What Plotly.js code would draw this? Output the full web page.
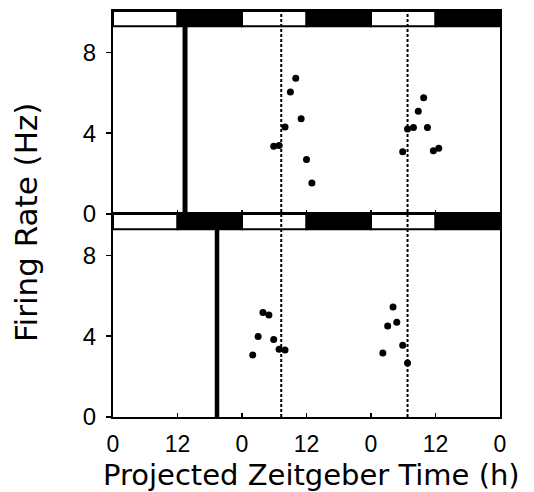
<!DOCTYPE html>
<html>
<head>
<meta charset="utf-8">
<script src="https://cdn.plot.ly/plotly-3.0.1.min.js"></script>
<style>html,body{margin:0;padding:0;background:#fff;}#chart{width:534px;height:492px;}</style>
</head>
<body>
<div id="chart"></div>
<script>
// ---- data ----
const tickHours = [0, 12, 24, 36, 48, 60, 72];
const tickLabels = ['0', '12', '0', '12', '0', '12', '0'];
const yTicks = [0, 4, 8];
const ldStarts = [0, 12, 24, 36, 48, 60];
const ldStates = ['L', 'D', 'L', 'D', 'L', 'D'];

const topHours = [29.9, 30.9, 32.0, 33.0, 34.0, 35.0, 36.0, 37.0,
                  53.9, 54.8, 55.9, 56.8, 57.8, 58.5, 59.6, 60.6];
const topRates = [3.35, 3.39, 4.31, 6.04, 6.72, 4.71, 2.70, 1.53,
                  3.08, 4.21, 4.28, 5.09, 5.76, 4.28, 3.13, 3.26];
const botHours = [26.0, 27.0, 27.9, 29.0, 29.9, 30.9, 32.0,
                  50.2, 51.1, 52.1, 52.8, 53.9, 54.8];
const botRates = [3.07, 3.99, 5.17, 5.05, 3.84, 3.35, 3.32,
                  3.17, 4.50, 5.45, 4.69, 3.55, 2.67];

const phaseTop = 13.4;     // thick line, upper panel
const phaseBottom = 19.35; // thick line, lower panel
const peakLines = [31.3, 54.8]; // dashed lines

const yMax = 10.05;
const barLow = 9.3;

// ---- build ----
const font = {family: 'Liberation Sans, Arial, Helvetica, sans-serif', color: '#000'};
const titleFont = {family: 'DejaVu Sans, Liberation Sans, Arial, sans-serif', color: '#000'};

const traces = [
  {x: topHours, y: topRates, xaxis: 'x', yaxis: 'y', type: 'scatter', mode: 'markers',
   marker: {color: '#000', size: 7}, hoverinfo: 'skip'},
  {x: botHours, y: botRates, xaxis: 'x2', yaxis: 'y2', type: 'scatter', mode: 'markers',
   marker: {color: '#000', size: 7}, hoverinfo: 'skip'}
];

const shapes = [];
['y', 'y2'].forEach(function (yr, pi) {
  ldStarts.forEach(function (s, i) {
    const dark = ldStates[i] === 'D';
    shapes.push({type: 'rect', xref: pi === 0 ? 'x' : 'x2', yref: yr,
      x0: s, x1: s + 12, y0: barLow, y1: yMax,
      fillcolor: dark ? '#000' : '#fff', line: {color: '#000', width: 2}});
  });
});
shapes.push({type: 'line', xref: 'x', yref: 'y', x0: phaseTop, x1: phaseTop, y0: 0, y1: barLow,
  line: {color: '#000', width: 5}});
shapes.push({type: 'line', xref: 'x2', yref: 'y2', x0: phaseBottom, x1: phaseBottom, y0: 0, y1: barLow,
  line: {color: '#000', width: 4.5}});
peakLines.forEach(function (h) {
  shapes.push({type: 'line', xref: 'x', yref: 'paper', x0: h, x1: h, y0: 0, y1: 1,
    line: {color: '#000', width: 2, dash: '3px,2px'}});
});

function xAxis(anchor, labels) {
  return {domain: [0, 1], range: [0, 72], anchor: anchor, tickmode: 'array',
    tickvals: tickHours, ticktext: tickLabels, showticklabels: labels,
    ticks: 'inside', ticklen: 4, tickwidth: 1.5, tickcolor: '#000',
    ticklabelstandoff: 5,
    showline: true, linewidth: 2, linecolor: '#000', mirror: true,
    showgrid: false, zeroline: false, tickfont: Object.assign({size: 23}, font), fixedrange: true};
}
function yAxis(anchor, domain) {
  return {domain: domain, range: [0, yMax], anchor: anchor, tickmode: 'array',
    tickvals: yTicks, ticks: 'outside', ticklen: 5, tickwidth: 1.5, tickcolor: '#000',
    ticklabelstandoff: 5,
    showline: true, linewidth: 2, linecolor: '#000', mirror: true,
    showgrid: false, zeroline: false, tickfont: Object.assign({size: 24}, font), fixedrange: true};
}

const layout = {
  width: 534, height: 492,
  margin: {l: 113, r: 34, t: 11, b: 75},
  paper_bgcolor: '#fff', plot_bgcolor: '#fff',
  showlegend: false,
  xaxis: xAxis('y', false),
  yaxis: yAxis('x', [0.5, 1]),
  xaxis2: Object.assign(xAxis('y2', true), {matches: 'x'}),
  yaxis2: yAxis('x2', [0, 0.5]),
  shapes: shapes,
  annotations: [
    {text: 'Projected Zeitgeber Time (h)', xref: 'paper', yref: 'paper', x: 0.512, y: -0.142,
     xanchor: 'center', yanchor: 'middle', showarrow: false, font: Object.assign({size: 29}, titleFont)},
    {text: 'Firing Rate (Hz)', xref: 'paper', yref: 'paper', x: -0.225, y: 0.48, textangle: -90,
     xanchor: 'center', yanchor: 'middle', showarrow: false, font: Object.assign({size: 31}, titleFont)}
  ]
};

Plotly.newPlot('chart', traces, layout, {staticPlot: true, displayModeBar: false});
</script>
</body>
</html>
